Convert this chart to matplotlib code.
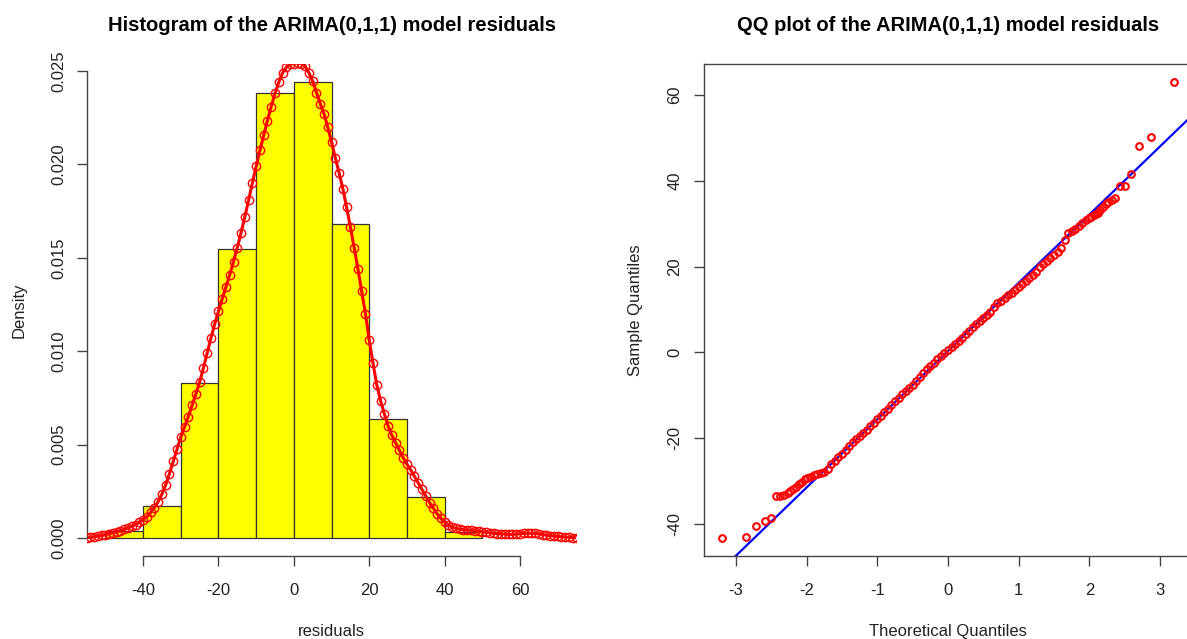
import numpy as np
import matplotlib
matplotlib.use("Agg")
import matplotlib.pyplot as plt

plt.rcParams['font.family'] = ['Liberation Sans', 'DejaVu Sans']
plt.rcParams['axes.unicode_minus'] = False

# ---- histogram of residuals (density scale, bins of width 10) ----
bin_edges = [-50, -40, -30, -20, -10, 0, 10, 20, 30, 40, 50]
bin_density = [0.0004, 0.0017, 0.0083, 0.0155, 0.0238, 0.0244, 0.0168, 0.0064, 0.0022, 0.0003]

# kernel density curve
dens_x = list(range(-55, 76))
dens_y = [
    0.00002, 0.00004, 0.00007, 0.00010, 0.00014, 0.00018, 0.00023, 0.00028, 0.00034, 0.00040,
    0.00047, 0.00054, 0.00062, 0.00072, 0.00084, 0.00098, 0.00115, 0.00137, 0.00163, 0.00195,
    0.00235, 0.00285, 0.00345, 0.00410, 0.00475, 0.00540, 0.00595, 0.00650, 0.00710, 0.00770,
    0.00835, 0.00910, 0.00990, 0.01070, 0.01145, 0.01215, 0.01280, 0.01345, 0.01410, 0.01480,
    0.01555, 0.01635, 0.01720, 0.01810, 0.01900, 0.01990, 0.02075, 0.02155, 0.02235, 0.02310,
    0.02380, 0.02440, 0.02490, 0.02520, 0.02535, 0.02540, 0.02545, 0.02540, 0.02525, 0.02490,
    0.02445, 0.02385, 0.02325, 0.02270, 0.02200, 0.02120, 0.02035, 0.01955, 0.01870, 0.01770,
    0.01665, 0.01555, 0.01440, 0.01320, 0.01200, 0.01060, 0.00935, 0.00820, 0.00735, 0.00665,
    0.00600, 0.00550, 0.00510, 0.00470, 0.00430, 0.00395, 0.00365, 0.00330, 0.00295, 0.00260,
    0.00225, 0.00190, 0.00160, 0.00130, 0.00105, 0.00085, 0.00070, 0.00058, 0.00052, 0.00048,
    0.00045, 0.00043, 0.00042, 0.00040, 0.00037, 0.00034, 0.00031, 0.00028, 0.00026, 0.00024,
    0.00022, 0.00021, 0.00020, 0.00020, 0.00021, 0.00023, 0.00025, 0.00026, 0.00026, 0.00025,
    0.00022, 0.00019, 0.00016, 0.00013, 0.00011, 0.00009, 0.00007, 0.00005, 0.00004, 0.00003,
    0.00002,
]

# ---- QQ plot: theoretical vs sample quantiles ----
qq_low_theo = [-3.20, -2.86, -2.71, -2.59, -2.51, -2.43, -2.38, -2.32, -2.27, -2.23,
               -2.19, -2.15, -2.11, -2.07, -2.03, -2.00]
qq_low_sample = [-43.3, -43.1, -40.4, -39.3, -38.7, -33.6, -33.6, -33.2, -32.8, -32.3,
                 -31.8, -31.4, -30.6, -30.2, -29.6, -29.3]

qq_mid_theo = [
    -1.95, -1.90, -1.85, -1.80, -1.75, -1.70, -1.65, -1.60, -1.55, -1.50,
    -1.45, -1.40, -1.35, -1.30, -1.25, -1.20, -1.15, -1.10, -1.05, -1.00,
    -0.95, -0.90, -0.85, -0.80, -0.75, -0.70, -0.65, -0.60, -0.55, -0.50,
    -0.45, -0.40, -0.35, -0.30, -0.25, -0.20, -0.15, -0.10, -0.05, 0.00,
    0.05, 0.10, 0.15, 0.20, 0.25, 0.30, 0.35, 0.40, 0.45, 0.50,
    0.55, 0.60, 0.65, 0.70, 0.75, 0.80, 0.85, 0.90, 0.95, 1.00,
    1.05, 1.10, 1.15, 1.20, 1.25, 1.30, 1.35, 1.40, 1.45, 1.50,
    1.55, 1.60, 1.65, 1.70, 1.75, 1.80, 1.85, 1.90, 1.95,
]
qq_mid_sample = [
    -29.0, -28.6, -28.4, -28.2, -27.9, -27.1, -26.1, -25.3, -24.4, -23.7,
    -22.8, -21.8, -20.9, -20.2, -19.6, -18.9, -18.0, -17.2, -16.4, -15.6,
    -14.8, -13.9, -13.1, -12.3, -11.4, -10.6, -9.7, -9.0, -8.3, -7.5,
    -6.7, -5.7, -4.8, -4.0, -3.3, -2.5, -1.6, -0.9, -0.2, 0.6,
    1.2, 1.9, 2.6, 3.4, 4.2, 5.0, 5.8, 6.6, 7.3, 8.0,
    8.6, 9.3, 10.6, 11.4, 12.0, 12.6, 13.3, 13.9, 14.6, 15.3,
    15.9, 16.6, 17.3, 18.0, 18.8, 19.8, 20.6, 21.4, 22.0, 22.7,
    23.4, 24.3, 26.2, 27.9, 28.4, 28.8, 29.4, 30.1, 30.8,
]

qq_high_theo = [2.00, 2.03, 2.06, 2.09, 2.12, 2.15, 2.19, 2.23, 2.27, 2.32,
                2.37, 2.43, 2.50, 2.59, 2.70, 2.87, 3.20]
qq_high_sample = [31.4, 31.6, 32.0, 32.3, 32.6, 33.2, 33.8, 34.6, 35.0, 35.6,
                  36.0, 38.7, 38.7, 41.6, 48.0, 50.2, 63.1]

# reference line through the quartiles
qq_intercept = 0.3
qq_slope = 15.9

fig = plt.figure(figsize=(11.87, 6.39), dpi=100)
W, H = 1187.0, 639.0

axis_col = '#444444'
text_col = '#222222'


def px_axes(x0, x1, ytop, ybot):
    return [x0 / W, 1 - ybot / H, (x1 - x0) / W, (ybot - ytop) / H]


# ---------------- left: histogram ----------------
ax1 = fig.add_axes(px_axes(87.3, 575.8, 64.0, 556.3))
widths = np.diff(bin_edges)
ax1.bar(bin_edges[:-1], bin_density, width=widths, align='edge',
        color='yellow', edgecolor='#333333', linewidth=0.9, zorder=1)
ax1.plot(dens_x, dens_y, color='red', lw=2.2, zorder=2)
ax1.plot(dens_x, dens_y, linestyle='none', marker='o', ms=6,
         mfc='none', mec='red', mew=1.0, zorder=3)
ax1.set_xlim(-54.8, 74.8)
ax1.set_ylim(-0.000976, 0.025376)
for s in ['top', 'right']:
    ax1.spines[s].set_visible(False)
ax1.spines['left'].set_bounds(0, 0.025)
ax1.spines['bottom'].set_bounds(-40, 60)
ax1.set_xticks([-40, -20, 0, 20, 40, 60])
ax1.set_yticks([0, 0.005, 0.010, 0.015, 0.020, 0.025])
ax1.set_yticklabels(['0.000', '0.005', '0.010', '0.015', '0.020', '0.025'])
ax1.set_title('Histogram of the ARIMA(0,1,1) model residuals',
              fontsize=14.5, fontweight='bold', pad=24)
ax1.set_xlabel('residuals', fontsize=12, color=text_col, va='center')
ax1.xaxis.set_label_coords(0.5, -0.153)
ax1.set_ylabel('Density', fontsize=12, color=text_col, va='center')
ax1.yaxis.set_label_coords(-0.140, 0.5)

# ---------------- right: QQ plot ----------------
ax2 = fig.add_axes(px_axes(703.7, 1192.3, 64.3, 556.3))
ax2.axline((0, qq_intercept), slope=qq_slope, color='blue', lw=1.6, zorder=2)
for tx, sy in [(qq_low_theo, qq_low_sample), (qq_mid_theo, qq_mid_sample),
               (qq_high_theo, qq_high_sample)]:
    ax2.plot(tx, sy, linestyle='none', marker='o', ms=4.8, mfc='none',
             mec='red', mew=1.5, zorder=3)
ax2.set_xlim(-3.457, 3.457)
ax2.set_ylim(-47.55, 67.15)
ax2.set_xticks([-3, -2, -1, 0, 1, 2, 3])
ax2.set_yticks([-40, -20, 0, 20, 40, 60])
ax2.set_title('QQ plot of the ARIMA(0,1,1) model residuals',
              fontsize=14.5, fontweight='bold', pad=24)
ax2.set_xlabel('Theoretical Quantiles', fontsize=12, color=text_col, va='center')
ax2.xaxis.set_label_coords(0.5, -0.153)
ax2.set_ylabel('Sample Quantiles', fontsize=12, color=text_col, va='center')
ax2.yaxis.set_label_coords(-0.140, 0.5)

for ax in (ax1, ax2):
    for s in ax.spines.values():
        s.set_color(axis_col)
        s.set_linewidth(1.0)
    ax.tick_params(axis='both', length=7.2, width=1.0, color=axis_col,
                   labelsize=12, labelcolor=text_col)
    ax.tick_params(axis='x', pad=12)
    ax.tick_params(axis='y', pad=8, labelrotation=90)
    for lab in ax.get_yticklabels():
        lab.set_va('center')

fig.savefig('out.png', dpi=100)
